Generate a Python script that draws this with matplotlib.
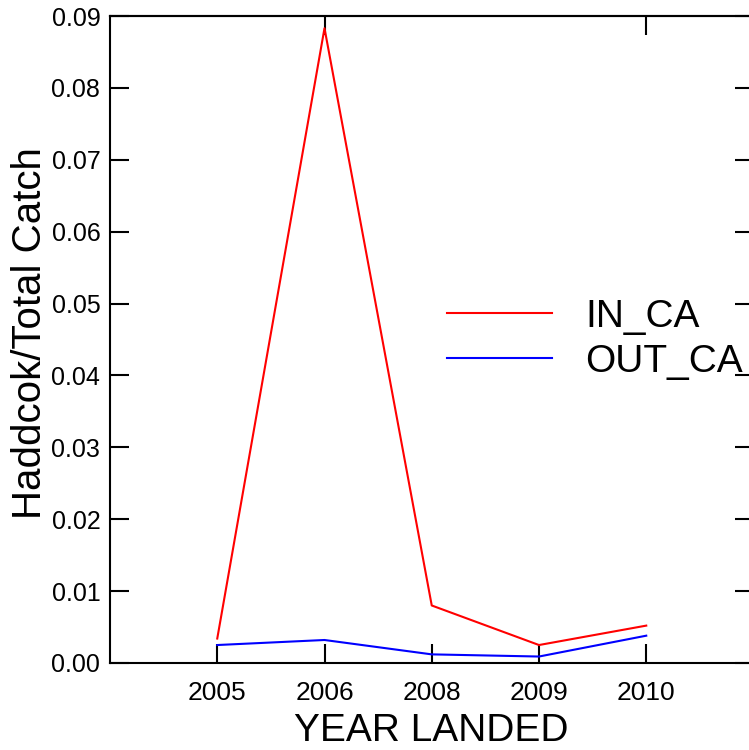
import matplotlib
matplotlib.use("Agg")
import matplotlib.pyplot as plt

years = ["2005", "2006", "2008", "2009", "2010"]
in_ca = [0.0034, 0.0883, 0.0080, 0.0025, 0.0052]
out_ca = [0.0025, 0.0032, 0.0012, 0.0009, 0.0038]
y_ticks = [0.00, 0.01, 0.02, 0.03, 0.04, 0.05, 0.06, 0.07, 0.08, 0.09]
y_labels = ["0.00", "0.01", "0.02", "0.03", "0.04", "0.05", "0.06", "0.07", "0.08", "0.09"]

plt.rcParams['font.family'] = ['Liberation Sans', 'DejaVu Sans']

W, H = 749, 750
fig = plt.figure(figsize=(W / 100, H / 100), dpi=100)
left, right, top, bottom = 110, 753.5, 16, 663
ax = fig.add_axes([left / W, 1 - bottom / H, (right - left) / W, (bottom - top) / H])

x = list(range(len(years)))
ax.plot(x, in_ca, color="#ff0000", lw=1.5, label="IN_CA")
ax.plot(x, out_ca, color="#0000ff", lw=1.5, label="OUT_CA")

ax.set_xlim(-1, 5)
ax.set_ylim(0, 0.09)
ax.set_xticks(x)
ax.set_xticklabels(years, fontsize=19)
ax.set_yticks(y_ticks)
ax.set_yticklabels(y_labels, fontsize=18)

for s in ax.spines.values():
    s.set_linewidth(1.5)

ax.tick_params(axis='x', direction='in', length=14, width=1.5, pad=13)
ax.tick_params(axis='y', direction='in', length=14, width=1.5, pad=7, right=True)

sec = ax.secondary_xaxis('top')
sec.set_xticks([1, 4])
sec.set_xticklabels([])
sec.tick_params(direction='in', length=14, width=1.5)
sec.spines['top'].set_linewidth(1.5)

ax.set_xlabel("YEAR LANDED", fontsize=28, labelpad=6)
ax.set_ylabel("Haddcok/Total Catch", fontsize=29, labelpad=2)
ax.yaxis.label.set_y(0.51)

leg = ax.legend(loc='upper left', bbox_to_anchor=(447 / W, 1 - 299 / H),
                bbox_transform=fig.transFigure, frameon=False, fontsize=28,
                handlelength=2.7, handletextpad=0.85, labelspacing=0.23,
                borderpad=0, borderaxespad=0)

fig.savefig("out.png", dpi=100)
